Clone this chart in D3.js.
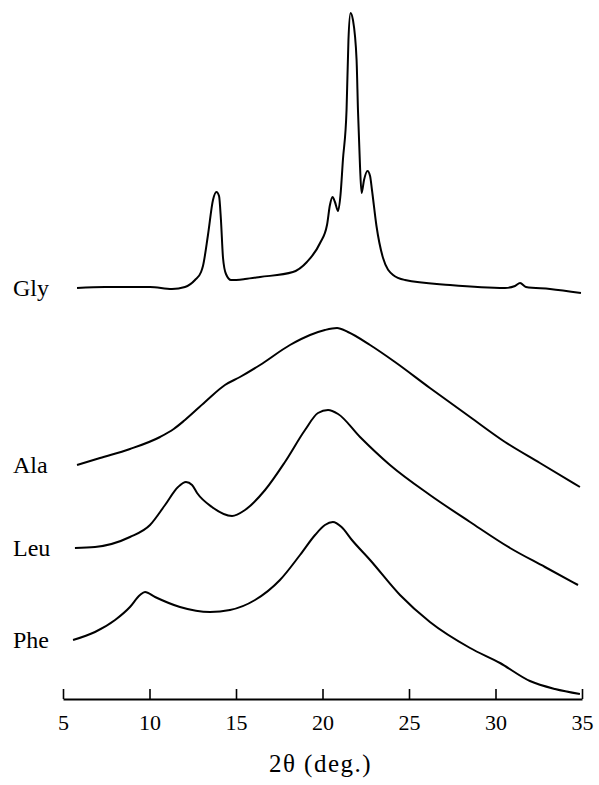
<!DOCTYPE html>
<html>
<head>
  <meta charset="utf-8">
  <title>XRD patterns</title>
  <script src="https://d3js.org/d3.v7.min.js"></script>
  <style>
    body { margin: 0; background: #fff; }
    svg { display: block; font-family: "Liberation Serif", "DejaVu Serif", serif; }
  </style>
</head>
<body>
  <svg id="chart" width="599" height="785"></svg>
  <script>
    // 2theta (deg.) and intensity (a.u., curves offset as in the figure)
    const glyTheta = [5.81, 7.43, 10.03, 11.30, 12.05, 12.63, 12.98, 13.09, 13.38, 13.67, 13.87, 14.02, 14.13, 14.25, 14.42, 14.71, 15.52, 16.39, 18.29, 19.10, 19.86, 20.26, 20.43, 20.58, 20.72, 20.90, 21.04, 21.18, 21.39, 21.50, 21.62, 21.76, 21.97, 22.05, 22.17, 22.26, 22.40, 22.60, 22.75, 22.86, 23.12, 23.50, 24.08, 24.77, 27.37, 30.55, 31.13, 31.42, 31.76, 33.15, 34.94];
    const glyInt   = [411, 412, 412, 410, 412, 419, 427, 433, 464, 499, 507, 503, 479, 441, 425, 419, 420, 422, 427, 437, 456, 474, 494, 502, 497, 488, 504, 539, 589, 659, 686, 679, 639, 589, 532, 506, 519, 528, 523, 509, 473, 441, 424, 419, 414, 411, 413, 416, 412, 410, 406];

    const alaTheta = [5.81, 7.14, 8.87, 10.61, 11.40, 12.05, 13.21, 14.36, 15.23, 16.39, 18.12, 19.28, 20.14, 20.84, 21.47, 22.75, 24.19, 26.21, 28.53, 30.55, 32.57, 34.88];
    const alaInt   = [234, 241, 250, 262, 270, 279, 297, 314, 322, 334, 354, 364, 369, 371, 367, 354, 337, 311, 282, 257, 236, 212];

    const leuTheta = [5.69, 6.85, 8.87, 10.03, 10.90, 11.65, 12.11, 12.46, 12.75, 13.61, 14.77, 15.52, 16.68, 17.83, 18.99, 19.74, 20.32, 20.90, 22.17, 23.90, 26.21, 28.53, 30.84, 32.86, 34.77];
    const leuInt   = [151, 152, 162, 174, 194, 212, 217, 214, 206, 192, 183, 189, 209, 237, 269, 286, 289, 285, 262, 234, 204, 177, 151, 132, 114];

    const pheTheta = [5.58, 6.85, 8.01, 8.87, 9.45, 9.74, 10.32, 11.76, 13.50, 14.65, 16.10, 17.54, 18.70, 19.57, 20.14, 20.60, 21.10, 21.70, 22.75, 24.48, 26.21, 28.53, 30.26, 31.99, 33.44, 34.88];
    const pheInt   = [59, 67, 79, 92, 104, 107, 102, 92, 87, 89, 99, 119, 144, 164, 174, 177, 172, 159, 139, 104, 77, 51, 36, 18, 10, 5];

    const seriesNames = ["Gly", "Ala", "Leu", "Phe"];
    const xTicks = [5, 10, 15, 20, 25, 30, 35];
    const xTitle = "2θ (deg.)";

    const series = [
      { name: seriesNames[0], pts: d3.zip(glyTheta, glyInt) },
      { name: seriesNames[1], pts: d3.zip(alaTheta, alaInt) },
      { name: seriesNames[2], pts: d3.zip(leuTheta, leuInt) },
      { name: seriesNames[3], pts: d3.zip(pheTheta, pheInt) }
    ];

    const svg = d3.select("#chart");
    const axisY = 699;

    const x = d3.scaleLinear().domain([5, 35]).range([63, 582]);
    const y = d3.scaleLinear().domain([0, 700]).range([axisY, axisY - 700]);

    const line = d3.line()
        .x(d => x(d[0]))
        .y(d => y(d[1]))
        .curve(d3.curveMonotoneX);

    svg.append("g")
        .selectAll("path")
        .data(series)
        .join("path")
          .attr("fill", "none")
          .attr("stroke", "#000")
          .attr("stroke-width", 2)
          .attr("stroke-linejoin", "round")
          .attr("d", d => line(d.pts));

    // curve names, at the level where each curve starts
    svg.append("g")
        .selectAll("text")
        .data(series)
        .join("text")
          .attr("x", 13)
          .attr("y", d => y(d.pts[0][1]))
          .attr("dy", "0.33em")
          .style("font-size", "24px")
          .text(d => d.name);

    const xAxis = d3.axisBottom(x)
        .tickValues(xTicks)
        .tickSizeInner(-10)
        .tickSizeOuter(0)
        .tickPadding(15);

    const gx = svg.append("g")
        .attr("transform", `translate(0,${axisY})`)
        .call(xAxis);
    gx.select(".domain").attr("stroke-width", 2);
    gx.selectAll(".tick line").attr("stroke-width", 1.6);
    gx.selectAll(".tick text")
        .attr("fill", "#000")
        .style("font-family", "Liberation Serif, serif")
        .style("font-size", "22px");

    svg.append("text")
        .attr("x", x(20) - 2)
        .attr("y", axisY + 73)
        .attr("text-anchor", "middle")
        .style("font-size", "25px")
        .style("letter-spacing", "1.5px")
        .text(xTitle);
  </script>
</body>
</html>
